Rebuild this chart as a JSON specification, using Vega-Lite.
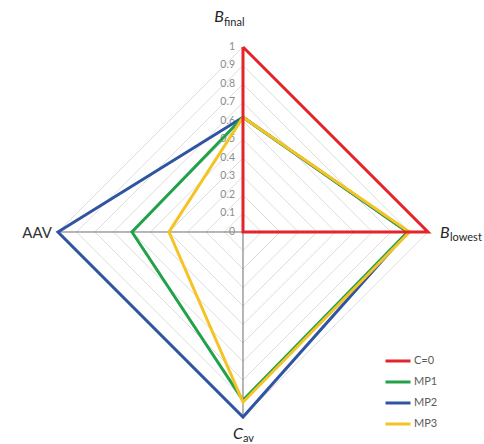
{
  "$schema": "https://vega.github.io/schema/vega-lite/v6.json",
  "width": 484,
  "height": 444,
  "autosize": {"type": "none"},
  "padding": 0,
  "background": "white",
  "config": {"view": {"stroke": null}, "font": "Lato"},
  "datasets": {
    "series": [
      {"series": "MP2", "axis": "B_final", "k": 0, "value": 0.62},
      {"series": "MP2", "axis": "B_lowest", "k": 1, "value": 0.89},
      {"series": "MP2", "axis": "C_av", "k": 2, "value": 1.0},
      {"series": "MP2", "axis": "AAV", "k": 3, "value": 1.0},
      {"series": "MP2", "axis": "B_final", "k": 4, "value": 0.62},
      {"series": "MP1", "axis": "B_final", "k": 0, "value": 0.62},
      {"series": "MP1", "axis": "B_lowest", "k": 1, "value": 0.89},
      {"series": "MP1", "axis": "C_av", "k": 2, "value": 0.91},
      {"series": "MP1", "axis": "AAV", "k": 3, "value": 0.6},
      {"series": "MP1", "axis": "B_final", "k": 4, "value": 0.62},
      {"series": "MP3", "axis": "B_final", "k": 0, "value": 0.62},
      {"series": "MP3", "axis": "B_lowest", "k": 1, "value": 0.9},
      {"series": "MP3", "axis": "C_av", "k": 2, "value": 0.92},
      {"series": "MP3", "axis": "AAV", "k": 3, "value": 0.4},
      {"series": "MP3", "axis": "B_final", "k": 4, "value": 0.62},
      {"series": "C=0", "axis": "B_final", "k": 0, "value": 1.0},
      {"series": "C=0", "axis": "B_lowest", "k": 1, "value": 1.0},
      {"series": "C=0", "axis": "C_av", "k": 2, "value": 0.0},
      {"series": "C=0", "axis": "AAV", "k": 3, "value": 0.0},
      {"series": "C=0", "axis": "B_final", "k": 4, "value": 1.0}
    ],
    "grid": [
      {"level": 0.1, "k": [0, 1, 2, 3, 4]},
      {"level": 0.2, "k": [0, 1, 2, 3, 4]},
      {"level": 0.3, "k": [0, 1, 2, 3, 4]},
      {"level": 0.4, "k": [0, 1, 2, 3, 4]},
      {"level": 0.5, "k": [0, 1, 2, 3, 4]},
      {"level": 0.6, "k": [0, 1, 2, 3, 4]},
      {"level": 0.7, "k": [0, 1, 2, 3, 4]},
      {"level": 0.8, "k": [0, 1, 2, 3, 4]},
      {"level": 0.9, "k": [0, 1, 2, 3, 4]},
      {"level": 1.0, "k": [0, 1, 2, 3, 4]}
    ],
    "ticks": [
      {"value": 0, "label": "0"},
      {"value": 0.1, "label": "0.1"},
      {"value": 0.2, "label": "0.2"},
      {"value": 0.3, "label": "0.3"},
      {"value": 0.4, "label": "0.4"},
      {"value": 0.5, "label": "0.5"},
      {"value": 0.6, "label": "0.6"},
      {"value": 0.7, "label": "0.7"},
      {"value": 0.8, "label": "0.8"},
      {"value": 0.9, "label": "0.9"},
      {"value": 1.0, "label": "1"}
    ],
    "spokes": [
      {"k": 0}, {"k": 1}, {"k": 2}, {"k": 3}
    ],
    "one": [{}]
  },
  "layer": [
    {
      "data": {"name": "grid"},
      "transform": [
        {"flatten": ["k"]},
        {"calculate": "datum.level * sin(datum.k * PI / 2)", "as": "px"},
        {"calculate": "datum.level * cos(datum.k * PI / 2)", "as": "py"}
      ],
      "mark": {"type": "line", "stroke": "#dedede", "strokeWidth": 1},
      "encoding": {
        "x": {"field": "px", "type": "quantitative", "scale": {"domain": [-1.3135, 1.3027], "nice": false, "zero": false}, "axis": null},
        "y": {"field": "py", "type": "quantitative", "scale": {"domain": [-1.146, 1.254], "nice": false, "zero": false}, "axis": null},
        "detail": {"field": "level", "type": "nominal"},
        "order": {"field": "k", "type": "quantitative"}
      }
    },
    {
      "data": {"name": "spokes"},
      "transform": [
        {"calculate": "sin(datum.k * PI / 2)", "as": "px"},
        {"calculate": "cos(datum.k * PI / 2)", "as": "py"},
        {"calculate": "0", "as": "cx"}
      ],
      "mark": {"type": "rule", "stroke": "#6e6e6e", "strokeWidth": 1},
      "encoding": {
        "x": {"field": "px", "type": "quantitative"},
        "y": {"field": "py", "type": "quantitative"},
        "x2": {"field": "cx"},
        "y2": {"field": "cx"}
      }
    },
    {
      "data": {"name": "ticks"},
      "mark": {"type": "text", "align": "right", "baseline": "middle", "dx": -8, "fontSize": 10.5, "fill": "#8c8c8c"},
      "encoding": {
        "x": {"datum": 0, "type": "quantitative"},
        "y": {"field": "value", "type": "quantitative"},
        "text": {"field": "label"}
      }
    },
    {
      "data": {"name": "series"},
      "transform": [
        {"calculate": "datum.value * sin(datum.k * PI / 2)", "as": "px"},
        {"calculate": "datum.value * cos(datum.k * PI / 2)", "as": "py"}
      ],
      "mark": {"type": "line", "strokeWidth": 3, "strokeJoin": "miter"},
      "encoding": {
        "x": {"field": "px", "type": "quantitative"},
        "y": {"field": "py", "type": "quantitative"},
        "order": {"field": "k", "type": "quantitative"},
        "color": {
          "field": "series",
          "type": "nominal",
          "scale": {"domain": ["C=0", "MP1", "MP2", "MP3"], "range": ["#e3252b", "#22a14b", "#2e54a2", "#f5c323"]},
          "legend": {
            "title": null,
            "orient": "none",
            "legendX": 384,
            "legendY": 353,
            "padding": 0,
            "symbolType": "stroke",
            "symbolSize": 625,
            "symbolStrokeWidth": 3,
            "clipHeight": 16,
            "rowPadding": 5,
            "labelOffset": 2,
            "labelFontSize": 11,
            "labelColor": "#5a5a5a",
            "labelFont": "Lato"
          }
        }
      }
    },
    {
      "data": {"name": "one"},
      "mark": {"type": "text", "align": "right", "baseline": "alphabetic", "dx": -19, "dy": -25, "fontSize": 16, "fontStyle": "italic", "fill": "#262626"},
      "encoding": {"x": {"datum": 0, "type": "quantitative"}, "y": {"datum": 1, "type": "quantitative"}, "text": {"value": "B"}}
    },
    {
      "data": {"name": "one"},
      "mark": {"type": "text", "align": "left", "baseline": "alphabetic", "dx": -19, "dy": -21, "fontSize": 11, "fill": "#262626"},
      "encoding": {"x": {"datum": 0, "type": "quantitative"}, "y": {"datum": 1, "type": "quantitative"}, "text": {"value": "final"}}
    },
    {
      "data": {"name": "one"},
      "mark": {"type": "text", "align": "left", "baseline": "alphabetic", "dx": 12, "dy": 6, "fontSize": 16, "fontStyle": "italic", "fill": "#262626"},
      "encoding": {"x": {"datum": 1, "type": "quantitative"}, "y": {"datum": 0, "type": "quantitative"}, "text": {"value": "B"}}
    },
    {
      "data": {"name": "one"},
      "mark": {"type": "text", "align": "left", "baseline": "alphabetic", "dx": 22, "dy": 9, "fontSize": 11, "fill": "#262626"},
      "encoding": {"x": {"datum": 1, "type": "quantitative"}, "y": {"datum": 0, "type": "quantitative"}, "text": {"value": "lowest"}}
    },
    {
      "data": {"name": "one"},
      "mark": {"type": "text", "align": "right", "baseline": "middle", "dx": -6, "dy": 1, "fontSize": 15, "fill": "#333333"},
      "encoding": {"x": {"datum": -1, "type": "quantitative"}, "y": {"datum": 0, "type": "quantitative"}, "text": {"value": "AAV"}}
    },
    {
      "data": {"name": "one"},
      "mark": {"type": "text", "align": "right", "baseline": "alphabetic", "dx": 0, "dy": 22, "fontSize": 16, "fontStyle": "italic", "fill": "#262626"},
      "encoding": {"x": {"datum": 0, "type": "quantitative"}, "y": {"datum": -1, "type": "quantitative"}, "text": {"value": "C"}}
    },
    {
      "data": {"name": "one"},
      "mark": {"type": "text", "align": "left", "baseline": "alphabetic", "dx": 0, "dy": 25, "fontSize": 11, "fill": "#262626"},
      "encoding": {"x": {"datum": 0, "type": "quantitative"}, "y": {"datum": -1, "type": "quantitative"}, "text": {"value": "av"}}
    }
  ]
}
